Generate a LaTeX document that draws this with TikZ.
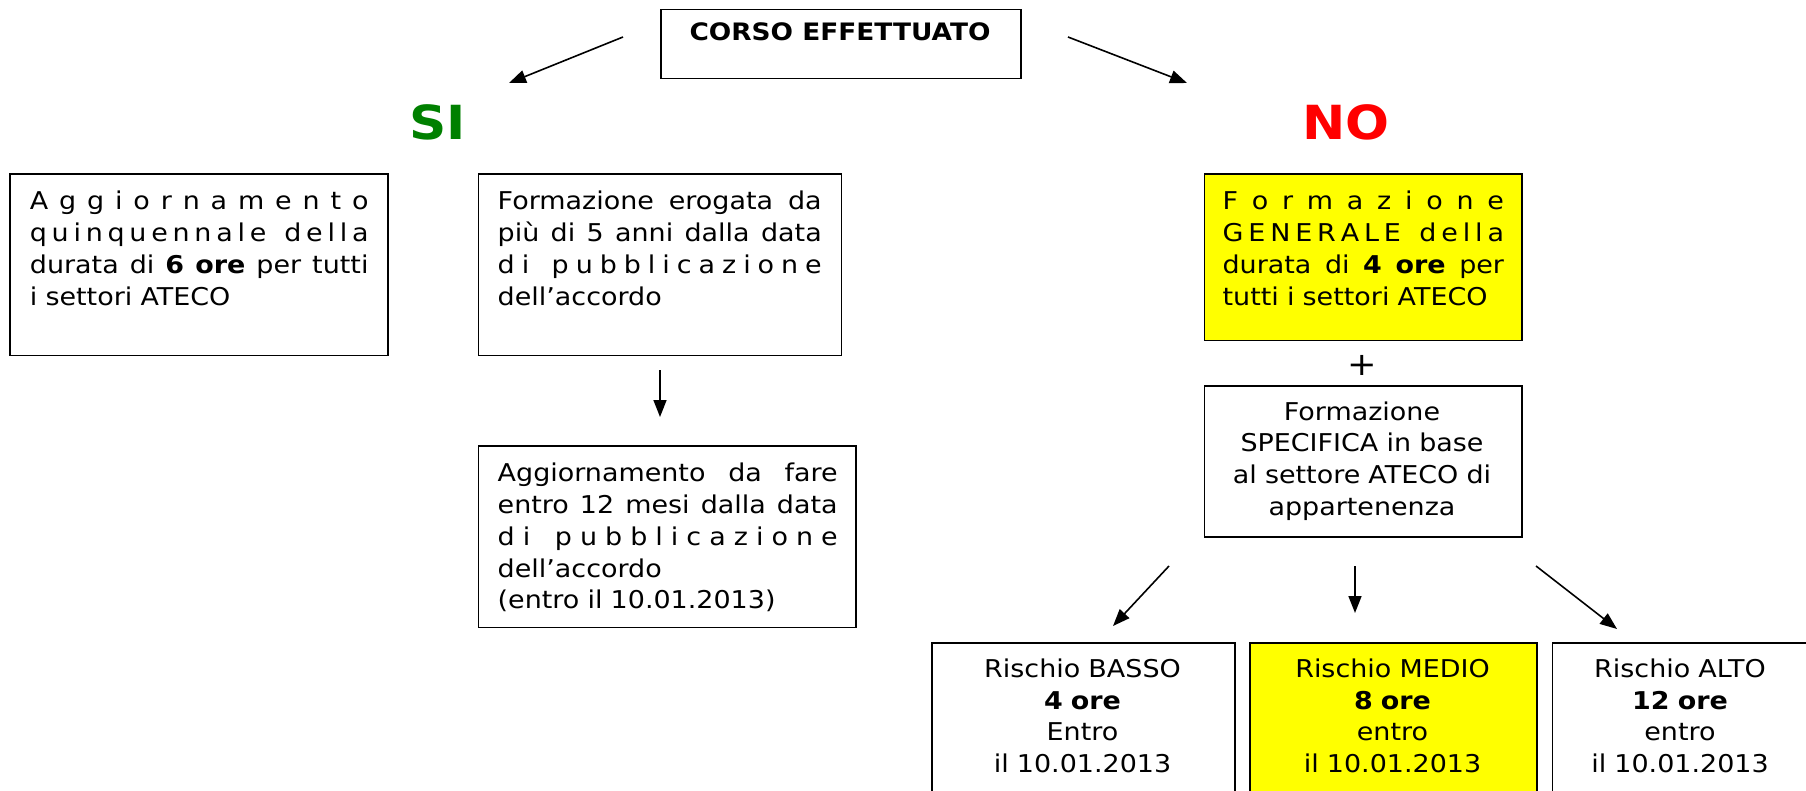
\documentclass[tikz,border=0pt]{standalone}
\usepackage{fontspec}
\setmainfont{DejaVu Sans}[FakeStretch=1.1]
\usetikzlibrary{arrows.meta}
\definecolor{sigreen}{RGB}{0,128,0}
\definecolor{nored}{RGB}{255,0,0}
\definecolor{hyellow}{RGB}{255,255,0}
\newcommand{\jline}[1]{\makebox[\linewidth][s]{\spaceskip=0.35em plus 1fil\relax #1}}
\newcommand{\fl}{\hfill}
\begin{document}
\begin{tikzpicture}[x=1pt,y=-1pt,
  box/.style={draw=black,line width=1.5pt,inner sep=0pt,anchor=north west},
  txt/.style={font=\fontsize{24.5}{31.8}\selectfont,inner sep=0pt,anchor=base west,align=left},
  ctxt/.style={font=\fontsize{24.5}{31.8}\selectfont,inner sep=0pt,anchor=base,align=center},
  big/.style={font=\fontsize{47}{50}\selectfont\bfseries,inner sep=0pt,anchor=base},
  arr/.style={line width=1.6pt,-{Triangle[length=17pt,width=13pt]}}]
\useasboundingbox (0,0) rectangle (1806,791);
% boxes
\node[box,minimum width=360pt,minimum height=69pt] (title) at (660,9) {};
\node[box,minimum width=378pt,minimum height=181pt] (boxA) at (9,173.5) {};
\node[box,minimum width=363pt,minimum height=181pt] (boxB) at (477.6,173.5) {};
\node[box,minimum width=377.5pt,minimum height=181.5pt] (boxC) at (477.6,445) {};
\node[box,fill=hyellow,minimum width=317.5pt,minimum height=166.5pt] (boxY) at (1203.5,173.5) {};
\node[box,minimum width=317.5pt,minimum height=151pt] (boxS) at (1203.5,385) {};
\node[box,minimum width=303pt,minimum height=170pt] (basso) at (931,642) {};
\node[box,fill=hyellow,minimum width=287pt,minimum height=170pt] (medio) at (1249,642) {};
\node[box,minimum width=260pt,minimum height=170pt] (alto) at (1551.5,642) {};
% texts
\node[ctxt,font=\fontsize{24}{30}\selectfont\bfseries] (titletxt) at (840,41) {CORSO EFFETTUATO};
\node[big,text=sigreen] (si) at (438,140) {SI};
\node[big,text=nored] (no) at (1346,140) {NO};
\node[txt,text width=338.6pt] (txtA) at (29.7,210) {%
\jline{A\fl g\fl g\fl i\fl o\fl r\fl n\fl a\fl m\fl e\fl n\fl t\fl o}\\
\jline{q\fl u\fl i\fl n\fl q\fl u\fl e\fl n\fl n\fl a\fl l\fl e\fl\ \fl d\fl e\fl l\fl l\fl a}\\
\jline{durata di \textbf{6 ore} per tutti}\\
i settori ATECO};
\node[txt,text width=324pt] (txtB) at (497.5,210) {%
\jline{Formazione erogata da}\\
\jline{più di 5 anni dalla data}\\
\jline{d\fl i\fl\ \fl p\fl u\fl b\fl b\fl l\fl i\fl c\fl a\fl z\fl i\fl o\fl n\fl e}\\
dell’accordo};
\node[txt,text width=340pt] (txtC) at (497.5,481.7) {%
\jline{Aggiornamento da fare}\\
\jline{entro 12 mesi dalla data}\\
\jline{d\fl i\fl\ \fl p\fl u\fl b\fl b\fl l\fl i\fl c\fl a\fl z\fl i\fl o\fl n\fl e}\\
dell’accordo\\
(entro il 10.01.2013)};
\node[txt,text width=281.4pt] (txtY) at (1222.4,210) {%
\jline{F\fl o\fl r\fl m\fl a\fl z\fl i\fl o\fl n\fl e}\\
\jline{G\fl E\fl N\fl E\fl R\fl A\fl L\fl E\fl\ \fl d\fl e\fl l\fl l\fl a}\\
\jline{durata di \textbf{4 ore} per}\\
tutti i settori ATECO};
\node[font=\fontsize{32}{34}\selectfont,inner sep=0pt] (plus) at (1362,365) {+};
\node[ctxt,text width=300pt] (txtS) at (1362,420) {Formazione\\SPECIFICA in base\\al settore ATECO di\\appartenenza};
\node[ctxt,text width=280pt] (txtBasso) at (1082.5,677.3) {Rischio BASSO\\\textbf{4 ore}\\Entro\\il 10.01.2013};
\node[ctxt,text width=280pt] (txtMedio) at (1392.5,677.3) {Rischio MEDIO\\\textbf{8 ore}\\entro\\il 10.01.2013};
\node[ctxt,text width=250pt] (txtAlto) at (1680,677.3) {Rischio ALTO\\\textbf{12 ore}\\entro\\il 10.01.2013};
% connector ends
\coordinate (tl) at (623,37);
\coordinate (sitip) at (509,83);
\coordinate (tr) at (1068,37);
\coordinate (notip) at (1187,83);
\coordinate (bs) at (660,370);
\coordinate (ct) at (660,417);
\coordinate (s1) at (1169,566);
\coordinate (e1) at (1113,626);
\coordinate (s2) at (1355,566);
\coordinate (e2) at (1355,613);
\coordinate (s3) at (1536,566);
\coordinate (e3) at (1617,629);
\draw[arr] (tl) -- (sitip);
\draw[arr] (tr) -- (notip);
\draw[arr] (bs) -- (ct);
\draw[arr] (s1) -- (e1);
\draw[arr] (s2) -- (e2);
\draw[arr] (s3) -- (e3);
\end{tikzpicture}
\end{document}
